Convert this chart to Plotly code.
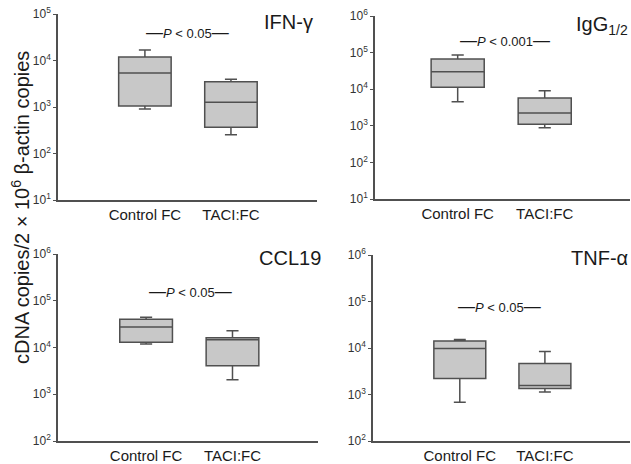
import plotly.graph_objects as go

# ---- data ----
groups = ["Control FC", "TACI:FC"]
panels = ["IFN-γ", "IgG<sub>1/2</sub>", "CCL19", "TNF-α"]
p_labels = ["P < 0.05", "P < 0.001", "P < 0.05", "P < 0.05"]

ifn_low = [906, 253]
ifn_q1 = [1050, 366]
ifn_med = [5380, 1260]
ifn_q3 = [11900, 3500]
ifn_high = [16800, 3940]

igg_low = [4550, 887]
igg_q1 = [11300, 1100]
igg_med = [30100, 2240]
igg_q3 = [66800, 5750]
igg_high = [85900, 9100]

ccl_low = [11900, 2040]
ccl_q1 = [12900, 4070]
ccl_med = [27500, 14700]
ccl_q3 = [40300, 16200]
ccl_high = [44500, 22900]

tnf_low = [680, 1130]
tnf_q1 = [2200, 1340]
tnf_med = [9750, 1560]
tnf_q3 = [14200, 4640]
tnf_high = [15200, 8420]

y_decades = [[1, 5], [1, 6], [2, 6], [2, 6]]

stats = [
    (ifn_low, ifn_q1, ifn_med, ifn_q3, ifn_high),
    (igg_low, igg_q1, igg_med, igg_q3, igg_high),
    (ccl_low, ccl_q1, ccl_med, ccl_q3, ccl_high),
    (tnf_low, tnf_q1, tnf_med, tnf_q3, tnf_high),
]

# ---- layout geometry ----
W, H = 631, 464
x_dom = [[58 / W, 317 / W], [375 / W, 630 / W], [58 / W, 318 / W], [373 / W, 630 / W]]
y_dom = [[1 - 200 / H, 1 - 14 / H], [1 - 199 / H, 1 - 16 / H],
         [1 - 441 / H, 1 - 254 / H], [1 - 441 / H, 1 - 255 / H]]
x_ranges = [[-1.01, 2.0], [-0.95, 1.98], [-1.02, 1.99], [-1.02, 2.0]]
p_pos = [(0.49, 4.61), (0.54, 5.325), (0.51, 5.197), (0.47, 4.886)]
title_pos = [(315, 22), (630, 25), (323, 258), (630, 258)]

FILL = "#c8c8c8"
LINE = "#505050"
TXT = "#1a1a1a"
FONT = "Liberation Sans, Arial, Helvetica, sans-serif"

fig = go.Figure()
annotations = []
for i in range(4):
    low, q1, med, q3, high = stats[i]
    xa = "x" if i == 0 else f"x{i + 1}"
    ya = "y" if i == 0 else f"y{i + 1}"
    for g in range(2):
        fig.add_trace(go.Box(
            x=[g], q1=[q1[g]], median=[med[g]], q3=[q3[g]],
            lowerfence=[low[g]], upperfence=[high[g]],
            width=0.61, whiskerwidth=0.23,
            fillcolor=FILL, line=dict(color=LINE, width=1.5),
            boxpoints=False, showlegend=False, hoverinfo="skip",
            xaxis=xa, yaxis=ya,
        ))
    lo, hi = y_decades[i]
    exps = list(range(lo, hi + 1))
    key = "" if i == 0 else str(i + 1)
    fig.layout["xaxis" + key] = dict(
        domain=x_dom[i], range=x_ranges[i], anchor=ya, automargin=False,
        tickvals=[0, 1], ticktext=groups, ticks="", showgrid=False,
        zeroline=False, showline=True, linecolor=LINE, linewidth=1.5,
        tickfont=dict(size=15, color=TXT, family=FONT),
    )
    fig.layout["yaxis" + key] = dict(
        domain=y_dom[i], type="log", range=[lo, hi], anchor=xa, automargin=False,
        tickvals=[10 ** e for e in exps],
        ticktext=[f"10<sup>{e}</sup>" for e in exps],
        ticks="outside", ticklen=3, tickcolor=LINE, tickwidth=1.2,
        showgrid=False, zeroline=False, showline=True, linecolor=LINE,
        linewidth=1.5, tickfont=dict(size=12, color="#333333", family=FONT),
    )
    px, py = p_pos[i]
    annotations.append(dict(
        x=px, y=py, xref=xa, yref=ya, showarrow=False,
        text=('<span style="font-size:17px">—</span><i>P</i> &lt; '
              + p_labels[i].split("< ")[1]
              + '<span style="font-size:17px">—</span>'),
        font=dict(size=13, color=TXT, family=FONT),
    ))
    tx, ty = title_pos[i]
    annotations.append(dict(
        x=tx / W, y=1 - ty / H, xref="paper", yref="paper",
        xanchor="right", yanchor="middle", showarrow=False,
        text=panels[i], font=dict(size=20, color=TXT, family=FONT),
    ))

annotations.append(dict(
    x=20 / W, y=1 - 208 / H, xref="paper", yref="paper", showarrow=False,
    textangle=-90, xanchor="center", yanchor="middle",
    text="cDNA copies/2 × 10<sup>6</sup> β-actin copies",
    font=dict(size=20, color=TXT, family=FONT),
))

fig.update_layout(
    width=W, height=H, margin=dict(l=0, r=0, t=0, b=0),
    paper_bgcolor="white", plot_bgcolor="white",
    annotations=annotations, font=dict(family=FONT),
)

fig.write_html("out.html", config={"displayModeBar": False},
               post_script="document.body.style.margin='0';")
